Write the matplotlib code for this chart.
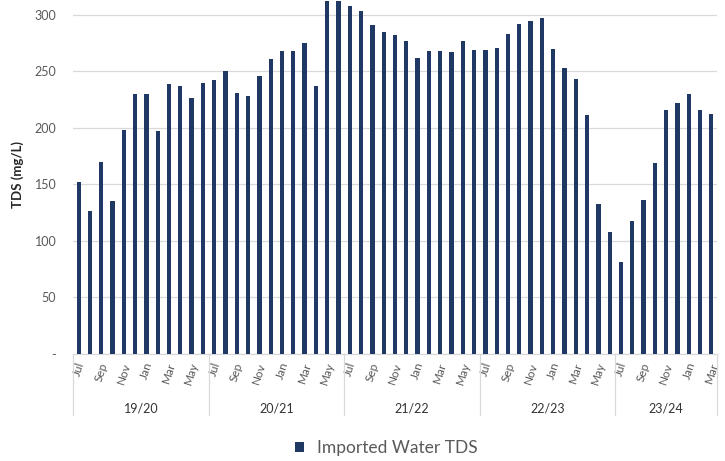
import matplotlib
matplotlib.use("Agg")
import matplotlib.pyplot as plt
import matplotlib.transforms as mtransforms

plt.rcParams['font.family'] = ['Lato', 'DejaVu Sans']

fiscal_years = ["19/20", "20/21", "21/22", "22/23", "23/24"]
months_per_year = [12, 12, 12, 12, 9]
month_names = ["Jul", "Aug", "Sep", "Oct", "Nov", "Dec",
               "Jan", "Feb", "Mar", "Apr", "May", "Jun"]

tds_1920 = [152, 126, 170, 135, 198, 230, 230, 197, 239, 237, 226, 240]
tds_2021 = [242, 250, 231, 228, 246, 261, 268, 268, 275, 237, 312, 312]
tds_2122 = [308, 303, 291, 285, 282, 277, 262, 268, 268, 267, 277, 269]
tds_2223 = [269, 271, 283, 292, 294, 297, 270, 253, 243, 211, 133, 108]
tds_2324 = [81, 118, 136, 169, 216, 222, 230, 216, 212]

values = tds_1920 + tds_2021 + tds_2122 + tds_2223 + tds_2324
month_labels = []
for n in months_per_year:
    month_labels += month_names[:n]

series_name = "Imported Water TDS"
bar_color = "#1f3864"
grid_color = "#d9d9d9"
text_color = "#595959"

W, H = 725, 461
fig = plt.figure(figsize=(W / 100, H / 100), dpi=100)
ax = fig.add_axes([73 / W, 1 - 354 / H, (717 - 73) / W, 354 / H])

x = list(range(len(values)))
bars = ax.bar(x, values, width=0.38, color=bar_color, label=series_name, zorder=3)

ax.set_xlim(-0.5, len(values) - 0.5)
ax.set_ylim(0, 313)
ax.set_yticks([0, 50, 100, 150, 200, 250, 300])
ax.set_yticklabels(["-", "50", "100", "150", "200", "250", "300"])
ax.yaxis.grid(True, color=grid_color, linewidth=0.9, zorder=0)
ax.tick_params(axis='y', length=0, pad=12, labelsize=9, labelcolor=text_color)

for s in ["top", "right", "left"]:
    ax.spines[s].set_visible(False)
ax.spines["bottom"].set_color(grid_color)
ax.spines["bottom"].set_linewidth(0.9)

ax.set_xticks(x)
ax.set_xticklabels([m if i % 2 == 0 else "" for i, m in enumerate(month_labels)],
                   rotation=72, fontsize=8.5, color=text_color)
ax.tick_params(axis='x', length=0, pad=5)

trans = mtransforms.blended_transform_factory(ax.transData, ax.transAxes)
start = 0
bounds = [-0.5]
for fy, n in zip(fiscal_years, months_per_year):
    center = start + (n - 1) / 2
    ax.text(center, -0.155, fy, transform=trans, ha='center', va='center',
            fontsize=9, color="#333333")
    start += n
    bounds.append(start - 0.5)
for b in bounds:
    ax.plot([b, b], [0, -0.172], transform=trans, color=grid_color,
            linewidth=0.9, clip_on=False)

fig.text(18 / W, 1 - 175 / H, "TDS (mg/L)", rotation=90, ha='center', va='center',
         fontsize=9.5, fontweight='bold', color="#262626")

fig.legend(handles=[bars], labels=[series_name], loc='center',
           bbox_to_anchor=(386 / W, 1 - 448 / H), frameon=False,
           handlelength=0.55, handleheight=0.55, handletextpad=0.7,
           prop={'size': 12.5}, labelcolor=text_color)

fig.savefig("out.png", dpi=100)
